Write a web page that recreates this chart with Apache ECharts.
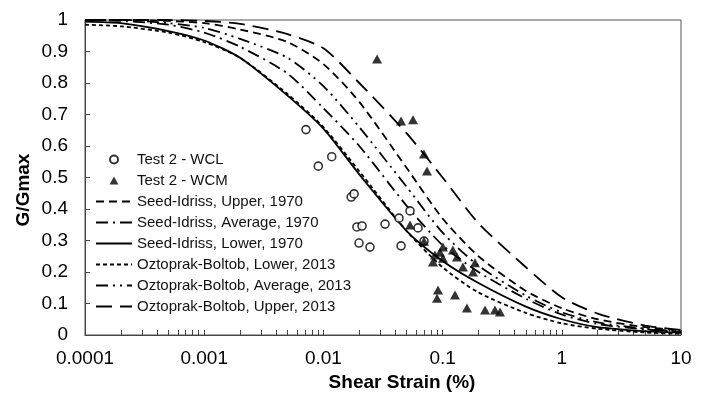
<!DOCTYPE html>
<html><head><meta charset="utf-8">
<script src="https://cdn.jsdelivr.net/npm/echarts@6/dist/echarts.min.js"></script>
<style>html,body{margin:0;padding:0;background:#fff}#c{width:715px;height:394px}</style>
</head><body><div id="c"></div>
<script>
const xTickLabels = ['0.0001','0.001','0.01','0.1','1','10'];
const yTickLabels = ['0','0.1','0.2','0.3','0.4','0.5','0.6','0.7','0.8','0.9','1'];
const strainPts = [0.0001,0.0002,0.0005,0.001,0.002,0.005,0.01,0.02,0.05,0.1,0.2,0.5,1,2,5,10];
const siUpper  = [1.0,1.0,0.997,0.99,0.97,0.93,0.86,0.74,0.53,0.37,0.25,0.14,0.085,0.05,0.025,0.015];
const siAvg    = [1.0,0.997,0.985,0.96,0.915,0.83,0.72,0.6,0.41,0.285,0.2,0.115,0.065,0.035,0.018,0.01];
const siLower  = [0.995,0.99,0.965,0.935,0.88,0.76,0.655,0.51,0.33,0.235,0.165,0.09,0.05,0.025,0.012,0.007];
const obLower  = [0.985,0.98,0.96,0.93,0.88,0.765,0.66,0.52,0.33,0.215,0.135,0.07,0.037,0.02,0.008,0.004];
const obAvg    = [1.0,1.0,0.99,0.975,0.94,0.88,0.79,0.66,0.47,0.325,0.22,0.125,0.072,0.04,0.02,0.012];
const obUpper  = [1.0,1.0,1.0,0.997,0.988,0.955,0.91,0.8,0.64,0.5,0.355,0.215,0.12,0.068,0.03,0.016];
const wclStrain = [0.00714,0.00906,0.01175,0.0171,0.0181,0.0191,0.0211,0.0329,0.0199,0.0246,0.0448,0.0431,0.0533,0.0622,0.0698];
const wclG      = [0.652,0.536,0.566,0.438,0.448,0.343,0.346,0.352,0.292,0.279,0.283,0.371,0.394,0.340,0.298];
const wcmStrain = [0.0282,0.0448,0.0565,0.0698,0.074,0.0533,0.0698,0.1007,0.095,0.0863,0.083,0.1007,0.122,0.132,0.148,0.187,0.18,0.0915,0.0898,0.127,0.16,0.227,0.275,0.303];
const wcmG      = [0.876,0.679,0.683,0.575,0.521,0.349,0.298,0.279,0.263,0.254,0.232,0.244,0.270,0.248,0.216,0.229,0.200,0.143,0.117,0.127,0.086,0.079,0.079,0.073];

const names = ['Test 2 - WCL','Test 2 - WCM','Seed-Idriss, Upper, 1970','Seed-Idriss, Average, 1970','Seed-Idriss, Lower, 1970','Oztoprak-Boltob, Lower, 2013','Oztoprak-Boltob, Average, 2013','Oztoprak-Boltob, Upper, 2013'];

const zip = (xs, ys) => xs.map((x, i) => [x, ys[i]]);
const tickVals = [];
for (let d = -4; d <= 0; d++) for (let k = 1; k <= 9; k++) tickVals.push(+(k * Math.pow(10, d)).toPrecision(3));
tickVals.push(10);

const lineSeries = (name, vals, type, width) => ({
  name, type: 'line', data: zip(strainPts, vals), symbol: 'none', smooth: 0.25,
  lineStyle: { color: '#000', width: width || 1.8, type }, itemStyle: { color: '#000' }, z: 3
});

const chart = echarts.init(document.getElementById('c'), null, { renderer: 'canvas' });
const font = 'Liberation Sans, Arial, sans-serif';
chart.setOption({
  animation: false,
  grid: { left: 85, right: 34, top: 20, bottom: 59, show: true, borderColor: '#555', borderWidth: 1 },
  xAxis: {
    type: 'log', logBase: 10, min: 0.0001, max: 10,
    axisLine: { show: true, lineStyle: { color: '#444', width: 1 } },
    axisTick: { show: true, inside: true, length: 5, lineStyle: { color: '#444' }, customValues: tickVals },
    minorTick: { show: false },
    splitLine: { show: false },
    axisLabel: {
      color: '#000', fontSize: 19, fontFamily: font, margin: 14,
      formatter: v => xTickLabels[Math.round(Math.log10(v)) + 4] || ''
    }
  },
  yAxis: {
    type: 'value', min: 0, max: 1, interval: 0.1,
    axisLine: { show: true, lineStyle: { color: '#444', width: 1 } },
    axisTick: { show: true, inside: true, length: 5, lineStyle: { color: '#444' } },
    splitLine: { show: false },
    axisLabel: {
      color: '#000', fontSize: 19, fontFamily: font, margin: 17,
      formatter: v => yTickLabels[Math.round(v * 10)]
    }
  },
  legend: [
    {
      data: [
        { name: names[0], icon: 'circle' },
        { name: names[1], icon: 'path://M0,9 L5,0 L10,9 Z' }
      ],
      orient: 'vertical', left: 104, top: 147,
      itemWidth: 36, itemHeight: 8, itemGap: 6, symbolKeepAspect: true,
      textStyle: { color: '#111', fontSize: 15, fontFamily: font, lineHeight: 14 }
    },
    {
      data: names.slice(2), orient: 'vertical', left: 90, top: 189,
      itemWidth: 36, itemHeight: 14, itemGap: 6,
      itemStyle: { color: 'rgba(0,0,0,0)', borderWidth: 0, opacity: 0 },
      textStyle: { color: '#111', fontSize: 15, fontFamily: font, lineHeight: 14 }
    }
  ],
  graphic: [
    { type: 'text', x: 24, y: 190, rotation: Math.PI / 2,
      style: { text: 'G/Gmax', font: 'bold 19px Liberation Sans, Arial, sans-serif', fill: '#000', align: 'center', verticalAlign: 'middle' } },
    { type: 'text', x: 402, y: 383,
      style: { text: 'Shear Strain (%)', font: 'bold 19px Liberation Sans, Arial, sans-serif', fill: '#000', align: 'center', verticalAlign: 'middle' } }
  ],
  series: [
    { name: names[0], type: 'scatter', data: zip(wclStrain, wclG), symbol: 'circle', symbolSize: 8,
      itemStyle: { color: '#fff', borderColor: '#000', borderWidth: 1.6 }, z: 5 },
    { name: names[1], type: 'scatter', data: zip(wcmStrain, wcmG), symbol: 'triangle', symbolSize: [10, 9],
      itemStyle: { color: '#000' }, z: 6 },
    lineSeries(names[2], siUpper, [8, 5]),
    lineSeries(names[3], siAvg, [12, 5, 2, 5]),
    lineSeries(names[4], siLower, 'solid'),
    lineSeries(names[5], obLower, [4, 3]),
    lineSeries(names[6], obAvg, [12, 5, 2, 5, 2, 5]),
    lineSeries(names[7], obUpper, [16, 8])
  ]
});
</script></body></html>
